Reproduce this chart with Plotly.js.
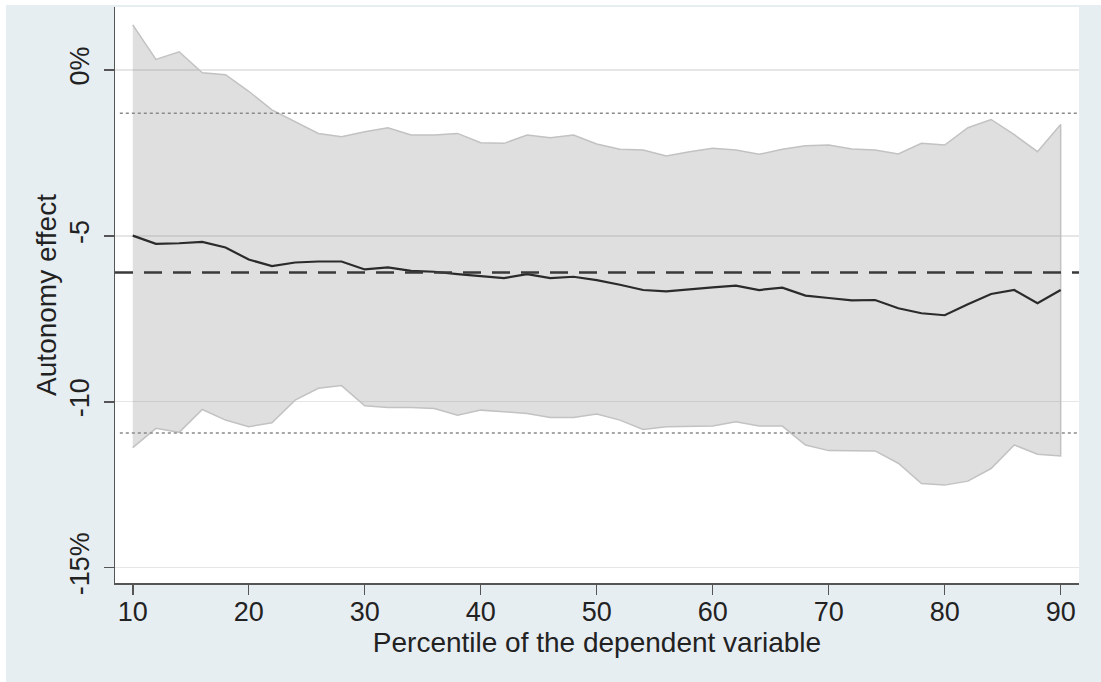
<!DOCTYPE html>
<html>
<head>
<meta charset="utf-8">
<script src="https://cdn.plot.ly/plotly-3.0.1.min.js"></script>
<style>
  html, body { margin: 0; padding: 0; background: #ffffff; width: 1101px; height: 682px; overflow: hidden; }
  #chart { position: absolute; left: 6px; top: 5px; width: 1095px; height: 677px; }
</style>
</head>
<body>
<div id="chart"></div>
<script>
// Percentiles of the dependent variable
const percentiles = [10,12,14,16,18,20,22,24,26,28,30,32,34,36,38,40,42,44,46,48,50,
                     52,54,56,58,60,62,64,66,68,70,72,74,76,78,80,82,84,86,88,90];
// Point estimate of the autonomy effect (%)
const effect = [-4.99,-5.24,-5.22,-5.18,-5.35,-5.71,-5.91,-5.80,-5.77,-5.77,-6.01,
                -5.95,-6.05,-6.08,-6.15,-6.22,-6.27,-6.15,-6.27,-6.23,-6.33,
                -6.47,-6.63,-6.67,-6.60,-6.55,-6.50,-6.63,-6.56,-6.80,-6.87,
                -6.94,-6.93,-7.18,-7.33,-7.39,-7.06,-6.75,-6.63,-7.03,-6.63];
// Upper bound of the confidence band
const upper = [1.36,0.32,0.55,-0.08,-0.14,-0.64,-1.20,-1.56,-1.91,-2.01,-1.86,
               -1.74,-1.96,-1.96,-1.91,-2.19,-2.21,-1.96,-2.04,-1.96,-2.23,
               -2.39,-2.41,-2.59,-2.46,-2.36,-2.41,-2.54,-2.39,-2.28,-2.26,
               -2.38,-2.41,-2.53,-2.21,-2.26,-1.74,-1.49,-1.95,-2.46,-1.64];
// Lower bound of the confidence band
const lower = [-11.38,-10.80,-10.92,-10.23,-10.55,-10.75,-10.63,-9.95,-9.59,-9.51,-10.12,
               -10.17,-10.17,-10.20,-10.40,-10.25,-10.30,-10.35,-10.47,-10.47,-10.37,
               -10.55,-10.83,-10.75,-10.75,-10.73,-10.60,-10.73,-10.73,-11.30,-11.47,
               -11.48,-11.48,-11.85,-12.46,-12.51,-12.39,-12.01,-11.30,-11.58,-11.63];
// Reference lines: average effect and its confidence interval
const meanEffect = -6.10;
const meanCI = [-1.30, -10.94];

// Axis ticks
const yTickVals = [0, -5, -10, -15];
const yTickText = ['0%', '-5', '-10', '-15%'];
const xTickVals = [10, 20, 30, 40, 50, 60, 70, 80, 90];

// Closed polygon for the confidence band
const bandX = percentiles.concat(percentiles.slice().reverse());
const bandY = upper.concat(lower.slice().reverse());

const traces = [
  {
    x: bandX, y: bandY, type: 'scatter', mode: 'lines',
    fill: 'toself', fillcolor: 'rgba(120,120,120,0.24)',
    line: {color: '#c2c2c2', width: 1.5},
    hoverinfo: 'skip', showlegend: false
  },
  {
    x: percentiles, y: effect, type: 'scatter', mode: 'lines',
    line: {color: '#2b2b2b', width: 2.2},
    showlegend: false
  }
];

const font = 'Liberation Sans, Arial, Helvetica, sans-serif';

const layout = {
  width: 1095, height: 677,
  margin: {l: 109, r: 22, t: 2, b: 99},
  paper_bgcolor: '#e7eef2',
  plot_bgcolor: '#ffffff',
  showlegend: false,
  font: {family: font, color: '#222222', size: 27},
  xaxis: {
    range: [8.47, 91.58],
    tickvals: xTickVals,
    ticks: 'outside', ticklen: 10, tickwidth: 1.5, tickcolor: '#555555',
    ticklabelstandoff: -6,
    showline: true, linecolor: '#555555', linewidth: 1.5,
    showgrid: false, zeroline: false,
    tickfont: {size: 27, family: font, color: '#222222'},
    title: {text: 'Percentile of the dependent variable', font: {size: 28, family: font, color: '#222222'}, standoff: 0}
  },
  yaxis: {
    range: [-15.46, 1.90],
    tickvals: yTickVals, ticktext: yTickText,
    tickangle: -90,
    ticks: 'outside', ticklen: 10, tickwidth: 1.5, tickcolor: '#555555',
    ticklabelstandoff: 4,
    showline: true, linecolor: '#555555', linewidth: 1.5,
    showgrid: true, gridcolor: '#e6e6e6', gridwidth: 1.2,
    zeroline: false,
    tickfont: {size: 27, family: font, color: '#222222'},
    title: {text: 'Autonomy effect', font: {size: 28, family: font, color: '#222222'}, standoff: 0}
  },
  shapes: [
    {type: 'line', xref: 'paper', yref: 'y', x0: 0.005, x1: 0.999, y0: meanCI[0], y1: meanCI[0],
     line: {color: '#8a8a8a', width: 1.6, dash: 'dot'}},
    {type: 'line', xref: 'paper', yref: 'y', x0: 0.005, x1: 0.999, y0: meanCI[1], y1: meanCI[1],
     line: {color: '#8a8a8a', width: 1.6, dash: 'dot'}},
    {type: 'line', xref: 'paper', yref: 'y', x0: 0, x1: 1, y0: meanEffect, y1: meanEffect,
     line: {color: '#3a3a3a', width: 2.4, dash: '18px,11px'}}
  ]
};

Plotly.newPlot('chart', traces, layout, {displayModeBar: false, staticPlot: true});
</script>
</body>
</html>
